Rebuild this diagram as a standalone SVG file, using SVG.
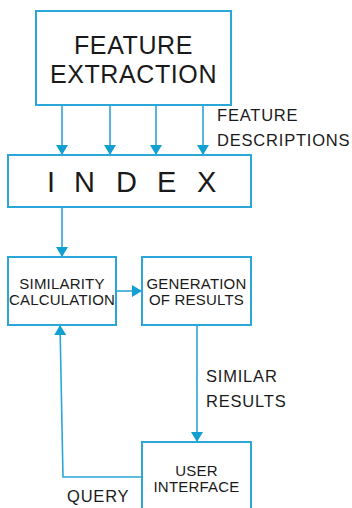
<svg xmlns="http://www.w3.org/2000/svg" width="352" height="508" viewBox="0 0 352 508">
<style>
.box{fill:#fff;stroke:#2ba6d8;stroke-width:2}
.ln{fill:none;stroke:#2ba6d8;stroke-width:1.6}
text{font-family:"Liberation Sans",Arial,sans-serif;fill:#1a1a1a}
.c{text-anchor:middle}
.s{font-size:15px;letter-spacing:0.2px}
.m{font-size:16.5px;letter-spacing:0.8px}
</style>
<defs>
<marker id="ah" viewBox="0 0 10 12" refX="10" refY="6" markerWidth="10" markerHeight="12" markerUnits="userSpaceOnUse" orient="auto">
<path d="M0,0 L10,6 L0,12 Z" fill="#129fd2"/>
</marker>
</defs>
<rect width="352" height="508" fill="#fff"/>
<g id="connectors">
<line class="ln" x1="62" y1="105" x2="62" y2="155" marker-end="url(#ah)"/>
<line class="ln" x1="110" y1="105" x2="110" y2="155" marker-end="url(#ah)"/>
<line class="ln" x1="156" y1="105" x2="156" y2="155" marker-end="url(#ah)"/>
<line class="ln" x1="203" y1="105" x2="203" y2="155" marker-end="url(#ah)"/>
<line class="ln" x1="62" y1="207" x2="62" y2="257" marker-end="url(#ah)"/>
<line class="ln" x1="116" y1="291" x2="142" y2="291" marker-end="url(#ah)"/>
<line class="ln" x1="197" y1="325" x2="197" y2="442" marker-end="url(#ah)"/>
<polyline class="ln" points="142,477 63,477 60,325" marker-end="url(#ah)"/>
</g>
<g id="feature-extraction">
<rect class="box" x="36" y="11" width="195" height="94"/>
<text class="c" x="133.5" y="54" font-size="25" letter-spacing="0.6">FEATURE</text>
<text class="c" x="133.5" y="83" font-size="25" letter-spacing="0.6">EXTRACTION</text>
</g>
<g id="feature-descriptions-label">
<text class="m" x="217" y="121">FEATURE</text>
<text class="m" x="217" y="146">DESCRIPTIONS</text>
</g>
<g id="index">
<rect class="box" x="8" y="155" width="243" height="52"/>
<text x="47" y="192" font-size="29">I</text>
<text x="74" y="192" font-size="29">N</text>
<text x="116" y="192" font-size="29">D</text>
<text x="157" y="192" font-size="29">E</text>
<text x="197" y="192" font-size="29">X</text>
</g>
<g id="similarity-calculation">
<rect class="box" x="8" y="257" width="108" height="68"/>
<text class="c s" x="62" y="289">SIMILARITY</text>
<text class="c s" x="62" y="305">CALCULATION</text>
</g>
<g id="generation-of-results">
<rect class="box" x="142" y="257" width="109" height="68"/>
<text class="c s" x="196.5" y="289">GENERATION</text>
<text class="c s" x="196.5" y="305">OF RESULTS</text>
</g>
<g id="similar-results-label">
<text class="m" x="206" y="382">SIMILAR</text>
<text class="m" x="206" y="407">RESULTS</text>
</g>
<g id="user-interface">
<rect class="box" x="142" y="442" width="109" height="70"/>
<text class="c s" x="196.5" y="476">USER</text>
<text class="c s" x="196.5" y="492">INTERFACE</text>
</g>
<g id="query-label">
<text class="m" x="67" y="502">QUERY</text>
</g>
</svg>
